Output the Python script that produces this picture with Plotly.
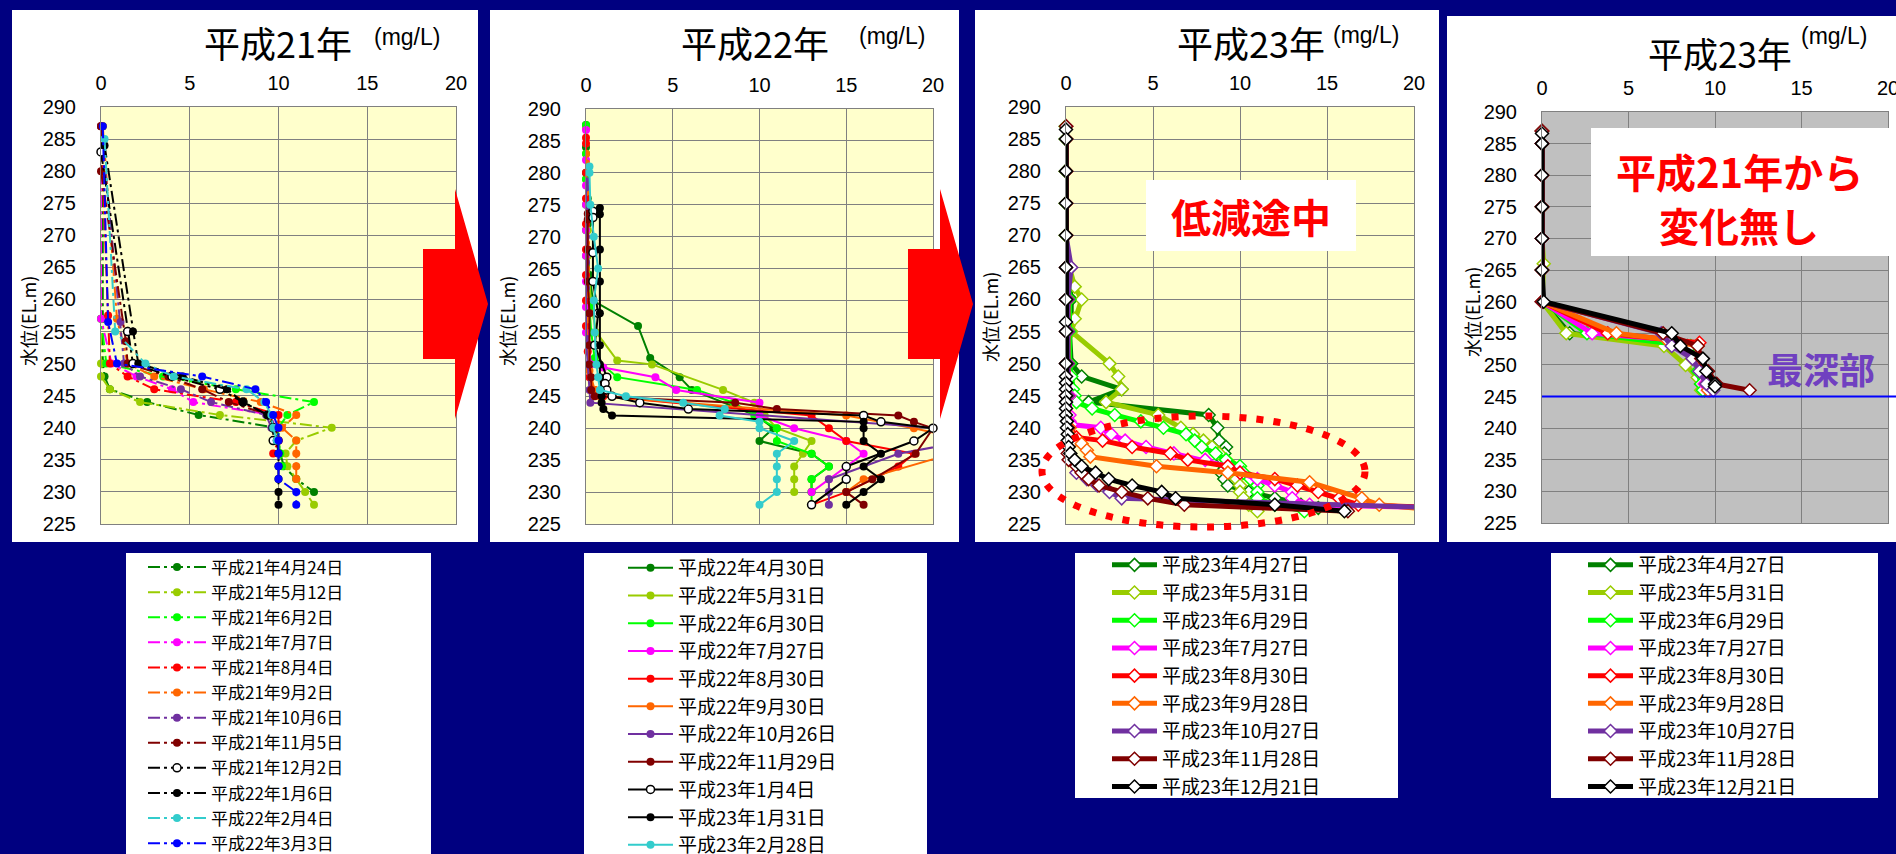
import plotly.graph_objects as go

W, H = 1896, 854


def px(x):
    return x / W


def py(y):
    return 1 - y / H


# ---------------- colours ----------------
DGREEN, OLIVE, GREEN, MAGENTA = "#008000", "#99cc00", "#00ff00", "#ff00ff"
RED, ORANGE, PURPLE, DRED = "#ff0000", "#ff6600", "#7030a0", "#800000"
BLACK, CYAN, BLUE = "#000000", "#33cccc", "#0000ff"

# ---------------- 平成21年 panel ----------------
H21_LABELS = ["平成21年4月24日", "平成21年5月12日", "平成21年6月2日", "平成21年7月7日",
              "平成21年8月4日", "平成21年9月2日", "平成21年10月6日", "平成21年11月5日",
              "平成21年12月2日", "平成22年1月6日", "平成22年2月4日", "平成22年3月3日"]
H21_COLORS = [DGREEN, OLIVE, GREEN, MAGENTA, RED, ORANGE, PURPLE, DRED, BLACK, BLACK, CYAN, BLUE]
H21_OPEN = [False] * 8 + [True] + [False] * 3
H21_DEPTH = [
    [287, 257, 250, 248, 246, 244, 242, 240, 238, 236, 234, 232, 230],
    [287, 257, 250, 248, 246, 244, 242, 240, 238, 236, 234, 232, 230, 228],
    [287, 257, 250, 248, 246, 244, 242, 240, 238, 236, 234],
    [287, 257, 250, 248, 246, 244, 242, 240, 238],
    [287, 257.5, 250, 248, 246, 244, 242, 240, 238, 236],
    [287, 257, 250, 248, 246, 244, 242, 240, 238, 236, 234, 232],
    [287, 256.5, 250, 248, 246, 244, 242, 240, 238],
    [287, 280, 253.5, 250, 248, 246, 244, 242, 240, 238],
    [283, 255, 250, 248, 246, 244, 242, 240, 238],
    [284, 255, 250, 248, 246, 244, 242, 240, 238, 236, 234, 232, 230, 228],
    [285, 255, 250, 248, 246, 244, 242, 240, 238],
    [287, 256.5, 250, 248, 246, 244, 242, 240, 238, 236, 234, 232, 230, 228],
]
H21_CONC = [
    [0.1, 0.1, 0.1, 0.2, 0.5, 2.6, 5.5, 9.9, 10.0, 10.1, 10.3, 11.0, 12.0],
    [0.0, 0.0, 0.0, 0.0, 0.5, 2.2, 6.7, 13.0, 11.0, 10.4, 10.5, 11.0, 11.5, 12.0],
    [0.0, 0.0, 0.3, 3.5, 7.6, 12.0, 10.5, 10.0, 10.0, 10.1, 10.2],
    [0.0, 0.0, 0.6, 2.0, 4.0, 5.2, 9.6, 9.8, 10.0],
    [0.0, 0.4, 0.5, 1.5, 3.0, 7.6, 10.0, 10.0, 10.0, 9.7],
    [0.1, 0.9, 1.5, 3.0, 5.8, 9.0, 11.0, 10.2, 11.0, 11.0, 11.0, 11.0],
    [0.0, 1.1, 1.3, 2.2, 4.5, 6.2, 9.3, 9.6, 9.8],
    [0.0, 0.0, 1.4, 1.5, 3.8, 5.7, 7.2, 9.5, 9.8, 10.0],
    [0.0, 1.5, 1.8, 4.0, 6.7, 8.0, 9.4, 9.7, 9.7],
    [0.2, 1.8, 2.1, 4.6, 7.1, 8.0, 9.4, 9.8, 9.9, 10.0, 10.0, 10.0, 10.0, 10.0],
    [0.2, 0.8, 2.5, 4.1, 8.2, 9.2, 9.6, 9.7, 9.9],
    [0.1, 0.4, 0.9, 5.7, 8.7, 9.3, 9.7, 10.0, 10.0, 10.0, 10.0, 10.0, 11.0, 11.0],
]

# ---------------- 平成22年 panel ----------------
H22_LABELS = ["平成22年4月30日", "平成22年5月31日", "平成22年6月30日", "平成22年7月27日",
              "平成22年8月30日", "平成22年9月30日", "平成22年10月26日", "平成22年11月29日",
              "平成23年1月4日", "平成23年1月31日", "平成23年2月28日"]
H22_COLORS = [DGREEN, OLIVE, GREEN, MAGENTA, RED, ORANGE, PURPLE, DRED, BLACK, BLACK, CYAN]
H22_OPEN = [False] * 8 + [True, False, False]
H22_DEPTH = [
    [287.5, 284, 280, 276, 272, 268, 264, 260, 256, 251, 248, 246, 242, 240, 238, 236, 234, 232, 230],
    [287, 283, 279, 275, 271, 267, 263, 259, 255, 250.6, 250, 246, 244, 242, 240, 238, 236, 234, 232, 230],
    [287.5, 283, 279, 275, 271, 267, 263, 259, 255, 251, 248, 246, 244, 242, 240, 238, 236, 234, 232, 230, 228],
    [286.7, 282, 278, 275, 271, 267, 263, 259, 255, 250, 249.5, 248, 246, 244, 242, 240, 238, 236, 234, 232, 230],
    [285.5, 284.6, 280, 276, 272, 268, 264, 260, 256, 252, 248, 246, 245, 242, 240, 238, 236, 234, 230, 228],
    [283, 281.5, 277, 273, 269, 265, 261, 257, 253, 249, 246, 245, 242, 240, 237.5, 232, 230],
    [278.7, 277.7, 274, 270, 266, 262, 258, 254, 250, 246, 244, 240, 238, 236, 232, 230, 228],
    [273.6, 272.7, 268, 263, 258, 253, 250, 248, 246, 245, 244, 243, 242, 241, 240, 236, 232, 230, 228],
    [274, 273, 267.5, 263, 258, 253, 248, 247, 246, 245, 244, 243, 242, 241, 240, 238, 234, 232, 228],
    [274.5, 273.5, 268, 263, 258, 253, 250, 248, 246, 245, 244, 243, 242, 241, 240, 238, 236, 234, 232, 230, 228],
    [281, 280, 275, 270, 265, 260, 255, 250, 248, 246, 245, 244, 243, 242, 241, 240, 238, 236, 234, 232, 230, 228],
]
H22_CONC = [
    [0.0, 0.0, 0.0, 0.1, 0.1, 0.1, 0.2, 0.4, 3.0, 3.7, 5.4, 6.1, 9.8, 10.8, 10.0, 13.0, 14.0, 13.0, 13.0],
    [0.0, 0.0, 0.0, 0.1, 0.1, 0.1, 0.2, 0.3, 0.6, 1.8, 3.8, 7.9, 9.7, 10.3, 11.0, 13.0, 12.5, 12.0, 12.0, 12.0],
    [0.0, 0.0, 0.0, 0.0, 0.0, 0.0, 0.1, 0.2, 0.3, 0.5, 1.8, 6.4, 8.5, 9.7, 11.0, 11.0, 13.0, 14.0, 13.0, 13.0, 13.0],
    [0.0, 0.0, 0.0, 0.0, 0.0, 0.0, 0.0, 0.0, 0.0, 0.3, 1.0, 4.0, 5.2, 10.0, 10.0, 12.0, 15.0, 16.0, 15.0, 14.0, 13.0],
    [0.0, 0.0, 0.0, 0.0, 0.0, 0.0, 0.0, 0.0, 0.0, 0.1, 0.2, 0.5, 1.0, 13.0, 14.0, 15.0, 18.9, 18.0, 15.0, 13.0],
    [0.0, 0.0, 0.0, 0.0, 0.0, 0.0, 0.0, 0.0, 0.1, 0.2, 0.5, 0.8, 15.0, 18.9, 23.0, 16.0, 15.0],
    [0.0, 0.0, 0.0, 0.0, 0.0, 0.0, 0.0, 0.0, 0.1, 0.2, 0.25, 20.3, 22.0, 18.0, 14.0, 14.0, 14.0],
    [0.1, 0.1, 0.1, 0.1, 0.2, 0.2, 0.2, 0.3, 0.3, 0.5, 8.6, 11.0, 18.0, 18.9, 20.0, 19.0, 16.5, 15.0, 16.0],
    [0.4, 0.4, 0.4, 0.4, 0.7, 0.5, 1.2, 1.1, 1.2, 1.5, 3.1, 5.9, 16.0, 17.0, 20.0, 18.9, 15.0, 15.0, 13.0],
    [0.8, 0.8, 0.8, 0.8, 0.8, 0.8, 0.8, 0.8, 0.85, 0.9, 0.9, 1.0, 1.5, 16.0, 16.0, 16.0, 17.0, 16.0, 17.0, 16.0, 15.0],
    [0.2, 0.2, 0.25, 0.45, 0.7, 0.45, 0.5, 0.6, 0.7, 0.8, 2.3, 5.6, 8.0, 7.7, 10.0, 10.0, 12.0, 11.0, 11.0, 11.0, 11.0, 10.0],
]

# ---------------- 平成23年 panel (左) ----------------
H23_LABELS = ["平成23年4月27日", "平成23年5月31日", "平成23年6月29日", "平成23年7月27日",
              "平成23年8月30日", "平成23年9月28日", "平成23年10月27日", "平成23年11月28日",
              "平成23年12月21日"]
H23_COLORS = [DGREEN, OLIVE, GREEN, MAGENTA, RED, ORANGE, PURPLE, DRED, BLACK]
H23_DEPTH = [
    [287, 285, 280, 275, 270, 265, 260, 257, 255, 250, 248, 246, 244, 242, 240, 238, 237, 236, 235, 234,
     233, 232, 231, 230, 229, 228, 227.5],
    [287, 285, 280, 275, 270, 265, 262, 260, 257, 255, 250, 248, 246, 244, 242, 240, 239, 238, 237, 236,
     235, 234, 233, 232, 231, 230, 229, 228, 227],
    [287, 285, 280, 275, 270, 265, 260, 255, 250, 248, 246, 245, 244, 243, 242, 241, 240, 239, 238, 237,
     236, 235, 234, 233, 232, 231, 230, 229, 228, 227],
    [287, 285, 280, 275, 270, 265, 260, 255, 250, 245, 242, 241, 240.5, 240, 239, 238, 237, 236, 235, 234,
     233, 232, 231, 230, 229, 228, 227.5],
    [287, 285, 280, 275, 270, 265, 260, 255, 250, 245, 240, 239, 238.5, 238, 237, 236, 235, 234, 233, 232,
     231, 230, 229, 228, 227.5],
    [287, 285, 280, 275, 270, 265, 260, 255, 250, 245, 240, 238, 237.5, 236.5, 235.5, 234, 233, 231.5, 229,
     228, 227],
    [287, 285, 280, 275, 270, 265, 260, 255, 250, 245, 240, 236, 235, 233, 232, 231, 230, 229, 227.5],
    [287, 285, 280, 275, 270, 265, 260, 255, 250, 245, 240, 236, 235, 234, 233, 232, 231, 230, 229, 228, 227],
    [286.5, 285, 280, 275, 270, 265, 260, 256.5, 255, 250, 248, 247, 246, 245, 244, 243, 242, 241, 240, 239,
     238, 237, 236, 235, 234, 233, 232, 231, 230, 229, 228, 227],
]
H23_CONC = [
    [0.0, 0.0, 0.0, 0.0, 0.0, 0.1, 0.3, 0.3, 0.2, 0.3, 0.9, 3.2, 1.3, 8.2, 8.7, 8.8, 9.2, 9.1, 9.0, 9.1,
     8.9, 9.1, 9.3, 10.5, 12.0, 13.5, 14.5],
    [0.0, 0.0, 0.0, 0.0, 0.0, 0.2, 0.5, 0.9, 0.5, 0.3, 2.5, 3.0, 3.2, 2.3, 5.3, 6.6, 7.3, 7.9, 8.4, 8.8,
     9.2, 9.6, 9.8, 9.8, 10.0, 10.0, 10.2, 10.5, 11.0],
    [0.0, 0.0, 0.0, 0.0, 0.0, 0.1, 0.2, 0.2, 0.2, 0.3, 0.4, 0.5, 0.6, 1.5, 2.8, 4.3, 5.6, 6.9, 7.4, 7.8,
     8.6, 9.2, 10.0, 10.2, 10.6, 11.0, 11.0, 11.0, 12.0, 13.7],
    [0.0, 0.0, 0.0, 0.0, 0.0, 0.0, 0.1, 0.1, 0.1, 0.2, 0.2, 0.2, 0.3, 2.0, 2.6, 3.4, 4.6, 6.2, 8.0, 9.3,
     10.0, 11.0, 12.0, 13.0, 13.0, 14.0, 22.0],
    [0.0, 0.0, 0.0, 0.0, 0.0, 0.0, 0.1, 0.1, 0.1, 0.1, 0.2, 0.3, 0.6, 2.1, 3.8, 6.0, 7.0, 9.3, 10.0, 12.0,
     13.3, 14.5, 15.7, 16.8, 22.0],
    [0.0, 0.0, 0.0, 0.0, 0.0, 0.0, 0.1, 0.1, 0.1, 0.1, 0.2, 0.5, 0.9, 1.2, 1.4, 5.2, 9.3, 14.0, 17.0,
     18.0, 22.0],
    [0.0, 0.0, 0.0, 0.0, 0.0, 0.3, 0.1, 0.1, 0.1, 0.1, 0.1, 0.2, 0.3, 0.6, 1.2, 1.8, 2.5, 3.2, 22.0],
    [0.0, 0.0, 0.0, 0.0, 0.0, 0.0, 0.0, 0.0, 0.0, 0.0, 0.1, 0.1, 0.15, 0.6, 0.9, 1.3, 1.9, 3.2, 4.7, 6.8, 16.2],
    [0.0, 0.0, 0.0, 0.0, 0.0, 0.0, 0.0, 0.0, 0.0, 0.0, 0.0, 0.0, 0.0, 0.0, 0.0, 0.0, 0.0, 0.05, 0.05, 0.1,
     0.1, 0.15, 0.25, 0.5, 0.9, 1.7, 2.45, 3.8, 5.5, 6.3, 12.0, 16.0],
]

# ---------------- 平成23年 panel (右) ----------------
H23B_DEPTH = [
    [287, 285, 280, 275, 270, 265, 260, 255, 253, 251, 249, 247, 246],
    [287, 285, 280, 275, 270, 266, 260, 255, 253, 250, 248, 246],
    [287, 285, 280, 275, 270, 265, 260, 255, 253, 251, 249, 247, 246],
    [287, 285, 280, 275, 270, 265, 260, 255, 254, 251, 249, 247, 246],
    [287, 285, 280, 275, 270, 265, 260, 255, 253.5, 251, 249, 247, 246],
    [287, 285, 280, 275, 270, 265, 260, 255, 254, 253, 251, 249, 247, 246],
    [287, 285, 280, 275, 270, 265, 260, 255, 253, 251, 249, 247, 246],
    [287, 285, 280, 275, 270, 265, 260, 255, 253, 251, 249, 247, 246],
    [286.6, 285, 280, 275, 270, 265, 260, 255, 253, 251, 249, 247, 246.6],
]
H23B_CONC = [
    [0, 0, 0, 0, 0, 0, 0, 1.6, 8.4, 8.8, 9.0, 9.2, 9.4],
    [0, 0, 0, 0, 0, 0.1, 0, 1.4, 7.05, 8.3, 9.0, 9.2],
    [0, 0, 0, 0, 0, 0, 0, 2.6, 8.6, 8.8, 9.0, 9.2, 9.3],
    [0, 0, 0, 0, 0, 0, 0, 2.9, 7.3, 8.8, 9.2, 9.4, 9.6],
    [0, 0, 0, 0, 0, 0, 0, 3.8, 9.1, 9.0, 9.3, 9.6, 9.7],
    [0, 0, 0, 0, 0, 0, 0, 4.3, 7.2, 9.0, 9.0, 9.2, 9.5, 9.6],
    [0, 0, 0, 0, 0, 0, 0, 6.9, 7.5, 8.7, 9.1, 9.5, 9.9],
    [0, 0, 0, 0, 0, 0, 0, 7.0, 9.0, 9.2, 9.6, 10.1, 12.0],
    [0, 0, 0, 0, 0, 0, 0.1, 7.5, 8.0, 9.3, 9.5, 10.0, 10.0],
]

X_RANGE = [0, 20]
Y_RANGE = [225, 290]

fig = go.Figure()


def fits(xs):
    # markers sitting on the axis stay whole; series leaving the frame stay clipped
    return all(X_RANGE[0] <= v <= X_RANGE[1] for v in xs)


# panel 1: dash-dot lines, round markers
for lab, col, op, ys, xs in zip(H21_LABELS, H21_COLORS, H21_OPEN, H21_DEPTH, H21_CONC):
    fig.add_trace(go.Scatter(
        x=xs, y=ys, name=lab, mode="lines+markers", xaxis="x", yaxis="y", legend="legend",
        cliponaxis=not fits(xs),
        line=dict(color=col, width=2, dash="12px,4px,3px,4px"),
        marker=dict(symbol="circle", size=8, color="white" if op else col,
                    line=dict(color=col, width=1.5 if op else 0))))

# panel 2: solid lines, round markers
for lab, col, op, ys, xs in zip(H22_LABELS, H22_COLORS, H22_OPEN, H22_DEPTH, H22_CONC):
    fig.add_trace(go.Scatter(
        x=xs, y=ys, name=lab, mode="lines+markers", xaxis="x2", yaxis="y2", legend="legend2",
        cliponaxis=not fits(xs),
        line=dict(color=col, width=2),
        marker=dict(symbol="circle", size=8, color="white" if op else col,
                    line=dict(color=col, width=1.5 if op else 0))))

# panels 3 and 4: thick lines, open diamonds
for ax, lg, depths, concs in (("3", "legend3", H23_DEPTH, H23_CONC), ("4", "legend4", H23B_DEPTH, H23B_CONC)):
    for lab, col, ys, xs in zip(H23_LABELS, H23_COLORS, depths, concs):
        fig.add_trace(go.Scatter(
            x=xs, y=ys, name=lab, mode="lines+markers", xaxis="x" + ax, yaxis="y" + ax, legend=lg,
            cliponaxis=not fits(xs),
            line=dict(color=col, width=5),
            marker=dict(symbol="diamond", size=10, color="white", line=dict(color=col, width=1.5))))

# ---------------- axes ----------------
PLOTS = {  # left, right, top, bottom in px
    "1": (101, 456, 107, 524),
    "2": (586, 933, 109, 524),
    "3": (1066, 1414, 107, 524),
    "4": (1542, 1888, 112, 523),
}
TICKFONT = dict(family="Liberation Sans, Arial", size=20, color="black")
axes = {}
for k, (l, r, t, b) in PLOTS.items():
    xs_ = "" if k == "1" else k
    gc = "#808080"
    axes["xaxis" + xs_] = dict(domain=[px(l), px(r)], anchor="y" + xs_, side="top", range=X_RANGE,
                              tick0=0, dtick=5, showgrid=True, gridcolor=gc, gridwidth=1,
                              showline=True, linecolor=gc, linewidth=1, mirror=True, ticks="",
                              zeroline=False, tickfont=TICKFONT, ticklabelstandoff=8,
                              ticklabeloverflow="allow", fixedrange=True)
    axes["yaxis" + xs_] = dict(domain=[py(b), py(t)], anchor="x" + xs_, range=Y_RANGE,
                              tick0=225, dtick=5, showgrid=True, gridcolor=gc, gridwidth=1,
                              showline=True, linecolor=gc, linewidth=1, mirror=True, ticks="",
                              zeroline=False, tickfont=TICKFONT, ticklabelstandoff=20,
                              ticklabeloverflow="allow", fixedrange=True)

# ---------------- shapes ----------------
def rect_px(x0, y0, x1, y1, color, layer="below"):
    return dict(type="rect", xref="paper", yref="paper", x0=px(x0), x1=px(x1), y0=py(y1), y1=py(y0),
                fillcolor=color, line=dict(width=0), layer=layer)


shapes = [
    rect_px(12, 10, 478, 542, "white"),
    rect_px(490, 10, 959, 542, "white"),
    rect_px(975, 10, 1439, 542, "white"),
    rect_px(1447, 16, 1900, 542, "white"),
    rect_px(126, 553, 431, 870, "white"),
    rect_px(584, 553, 927, 870, "white"),
    rect_px(1075, 553, 1398, 798, "white"),
    rect_px(1551, 553, 1878, 798, "white"),
]
for k in PLOTS:
    sfx = "" if k == "1" else k
    shapes.append(dict(type="rect", xref="x" + sfx + " domain", yref="y" + sfx + " domain",
                       x0=0, x1=1, y0=0, y1=1, fillcolor="#c0c0c0" if k == "4" else "#ffffcc",
                       line=dict(width=0), layer="below"))


def arrow(x_off):
    pts = [(423, 249), (455, 249), (455, 189), (488, 304), (455, 419), (455, 359), (423, 359)]
    d = "M" + " L".join(f"{px(x + x_off):.5f},{py(y):.5f}" for x, y in pts) + " Z"
    return dict(type="path", xref="paper", yref="paper", path=d, fillcolor="#ff0000",
                line=dict(width=0), layer="above")


shapes += [arrow(0), arrow(485)]
shapes.append(dict(type="circle", xref="paper", yref="paper", x0=px(1042), x1=px(1365),
                   y0=py(527), y1=py(416), line=dict(color="#ff0000", width=7, dash="7px,10px"),
                   layer="above"))
shapes.append(rect_px(1146, 180, 1356, 251, "white", "above"))
shapes.append(rect_px(1591, 128, 1900, 256, "white", "above"))
shapes.append(dict(type="line", xref="paper", yref="y4", x0=px(1542), x1=1, y0=245, y1=245,
                   line=dict(color="#0000ff", width=2), layer="above"))

# ---------------- annotations ----------------
JP = "Noto Sans CJK JP"


def ann(text, x, y, size, color="black", family=JP, angle=0, weight="normal"):
    return dict(text=text, x=px(x), y=py(y), xref="paper", yref="paper", showarrow=False,
                xanchor="center", yanchor="middle", textangle=angle,
                font=dict(family=family, size=size, color=color, weight=weight))


annotations = [
    ann("平成21年", 278, 42, 36), ann("(mg/L)", 407, 37, 23, family="Liberation Sans, Arial"),
    ann("平成22年", 755, 42, 36), ann("(mg/L)", 892, 36, 23, family="Liberation Sans, Arial"),
    ann("平成23年", 1251, 42, 36), ann("(mg/L)", 1366, 35, 23, family="Liberation Sans, Arial"),
    ann("平成23年", 1720, 53, 35), ann("(mg/L)", 1834, 36, 23, family="Liberation Sans, Arial"),
    ann("水位(EL.m)", 28, 321, 18, angle=-90),
    ann("水位(EL.m)", 507, 321, 18, angle=-90),
    ann("水位(EL.m)", 990, 317, 18, angle=-90),
    ann("水位(EL.m)", 1472, 312, 18, angle=-90),
    ann("低減途中", 1251, 216, 40, color="#ff0000", weight="bold"),
    ann("平成21年から", 1739, 171, 40, color="#ff0000", weight="bold"),
    ann("変化無し", 1739, 225, 40, color="#ff0000", weight="bold"),
    ann("最深部", 1821, 368, 36, color="#7040c0", weight="bold"),
]

LEGFONT = dict(family=JP, color="black")
fig.update_layout(
    width=W, height=H,
    margin=dict(l=0, r=0, t=0, b=0, autoexpand=False),
    paper_bgcolor="#000080", plot_bgcolor="rgba(0,0,0,0)",
    showlegend=True,
    legend=dict(x=px(143), y=py(549.5), xanchor="left", yanchor="top", bgcolor="rgba(0,0,0,0)",
                borderwidth=0, itemwidth=58, tracegroupgap=0, font=dict(size=17, **LEGFONT)),
    legend2=dict(x=px(623), y=py(549), xanchor="left", yanchor="top", bgcolor="rgba(0,0,0,0)",
                 borderwidth=0, itemwidth=45, tracegroupgap=0, font=dict(size=19, **LEGFONT)),
    legend3=dict(x=px(1107), y=py(546), xanchor="left", yanchor="top", bgcolor="rgba(0,0,0,0)",
                 borderwidth=0, itemwidth=45, tracegroupgap=0, font=dict(size=19, **LEGFONT)),
    legend4=dict(x=px(1583), y=py(546), xanchor="left", yanchor="top", bgcolor="rgba(0,0,0,0)",
                 borderwidth=0, itemwidth=45, tracegroupgap=0, font=dict(size=19, **LEGFONT)),
    shapes=shapes, annotations=annotations,
    **axes,
)

fig.write_html("out.html", config={"displayModeBar": False},
               post_script="document.body.style.margin='0';document.body.style.overflow='hidden';")
